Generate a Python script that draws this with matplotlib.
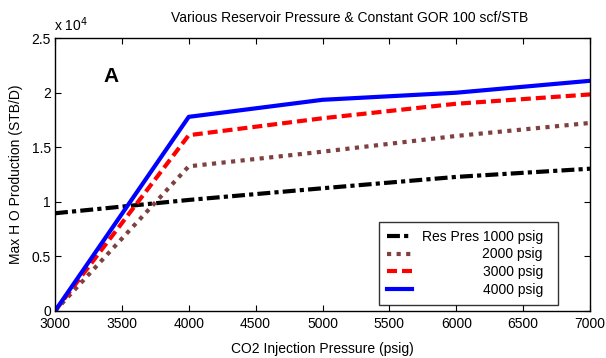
import matplotlib
matplotlib.use("Agg")
import matplotlib.pyplot as plt
from matplotlib.ticker import FuncFormatter, MultipleLocator

plt.rcParams['font.family'] = ['Liberation Sans', 'DejaVu Sans']

# CO2 injection pressure (psig)
injection_pressure = [3000, 4000, 5000, 6000, 7000]

# Max water production (STB/D) per reservoir pressure
res_1000 = [8950, 10170, 11240, 12280, 13030]
res_2000 = [0, 13250, 14590, 16030, 17220]
res_3000 = [0, 16100, 17650, 18980, 19830]
res_4000 = [0, 17780, 19340, 19990, 21080]

labels = ["Res Pres 1000 psig", "2000 psig", "3000 psig", "4000 psig"]
title = "Various Reservoir Pressure & Constant GOR 100 scf/STB"

W, H = 606, 358
FS = 10
fig = plt.figure(figsize=(W / 100, H / 100), dpi=100)
ax = fig.add_axes([55 / W, 1 - 311 / H, (590 - 55) / W, (311 - 38) / H])

lw = 3.0
l1, = ax.plot(injection_pressure, res_1000, color='black', lw=lw,
              dashes=(3.1, 1.0, 1.0, 1.0), label=labels[0])
l2, = ax.plot(injection_pressure, res_2000, color='#7f4040', lw=lw,
              dashes=(1.0, 1.3), label=labels[1])
l3, = ax.plot(injection_pressure, res_3000, color='#ff0000', lw=lw,
              dashes=(2.4, 1.2), label=labels[2])
l4, = ax.plot(injection_pressure, res_4000, color='#0000ff', lw=lw,
              label=labels[3])

ax.set_xlim(3000, 7000)
ax.set_ylim(0, 25000)
ax.xaxis.set_major_locator(MultipleLocator(500))
ax.yaxis.set_major_locator(MultipleLocator(5000))
ax.yaxis.set_major_formatter(FuncFormatter(lambda v, p: f"{v / 1e4:g}"))

ax.tick_params(direction='in', length=4, width=0.8, top=True, right=True,
               labelsize=FS, colors='black', pad=3)
ax.tick_params(axis='x', pad=4)
for s in ax.spines.values():
    s.set_linewidth(1.0)

ax.set_xlabel("CO2 Injection Pressure (psig)", fontsize=FS, labelpad=8)
ax.set_ylabel("Max H O Production (STB/D)", fontsize=FS, labelpad=6)

fig.text(350 / W, 1 - 18 / H, title, ha='center', va='center', fontsize=FS)
fig.text(54 / W, 1 - 25 / H, r"x 10$^4$", ha='left', va='center', fontsize=FS)
ax.text(0.09, 0.86, "A", transform=ax.transAxes, fontsize=15,
        fontweight='bold', ha='left', va='center')

leg = ax.legend(handles=[l1, l2, l3, l4], loc='upper left',
                bbox_to_anchor=(379 / W, 1 - 222 / H), bbox_transform=fig.transFigure,
                fontsize=FS, frameon=True, fancybox=False, edgecolor='black',
                handlelength=1.8, handletextpad=0.72, labelspacing=0.27,
                borderpad=0.55, borderaxespad=0)
leg.get_frame().set_linewidth(1.0)

# right-align the legend labels and leave a little room on the right
fig.canvas.draw()
renderer = fig.canvas.get_renderer()
texts = leg.get_texts()
widths = [t.get_window_extent(renderer).width for t in texts]
wmax = max(widths)
for t in texts:
    t.set_text(t.get_text() + "  ")
fig.canvas.draw()
for t, w in zip(texts, widths):
    t.set_x(wmax - w)

fig.savefig("out.png", dpi=100)
